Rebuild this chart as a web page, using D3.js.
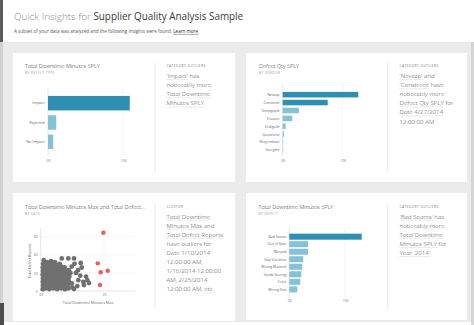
<!DOCTYPE html>
<html><head><meta charset="utf-8">
<script src="https://cdn.jsdelivr.net/npm/d3@7"></script>
<style>
body{margin:0;background:#fff}
svg{display:block}
text{font-family:"Open Sans","Noto Sans",sans-serif}
</style>
</head><body>
<svg id="c" width="474" height="325"></svg>
<script>
// ---- data ----
const defectTypes = ["Impact", "Rejected", "No Impact"];
const defectTypeMinutes = [10900, 1100, 700];
const defectTypeOutliers = ["Impact"];

const vendors = ["Nevzap", "Constreet", "Tempguple", "Trusson", "Ecdigulle", "Quotelane", "Rozycinbase", "San-glee"];
const vendorQty = [12600, 7500, 2700, 1600, 500, 200, 60, 40];
const vendorOutliers = ["Nevzap", "Constreet"];

const defects = ["Bad Seams", "Out of Spec", "Warped", "Gap Variation", "Wrong Material", "Inside Scoring", "Color", "Wrong Size"];
const defectMinutes = [13000, 3350, 3350, 2500, 2330, 2150, 1970, 1440];
const defectOutliers = ["Bad Seams"];

// [Total Downtime Minutes Max, Total Defect Reports] per date
const datePoints = [
  [65,2],[72,6],[68,10],[75,14],[62,18],[70,22],[66,26],[74,30],
  [150,3],[140,7],[160,11],[145,15],[155,19],[148,23],[158,27],[142,31],
  [270,2],[280,6],[265,10],[275,14],[285,18],[268,22],[278,26],[272,30],
  [400,3],[390,7],[410,11],[395,15],[405,19],[398,23],[388,27],[408,31],
  [520,2],[530,6],[515,10],[525,14],[510,18],[528,22],[518,26],[522,29],
  [650,3],[640,7],[660,11],[645,15],[655,19],[648,23],[658,27],
  [770,2],[780,6],[765,10],[775,14],[785,18],[768,22],[760,26],
  [880,3],[870,7],[890,11],[875,15],[860,19],[885,23],
  [88,4],[92,8],[85,12],[95,16],[90,20],[86,24],[93,28],
  [212,4],[205,8],[215,12],[208,16],[210,20],[204,24],[214,28],
  [335,4],[340,8],[330,12],[338,16],[332,20],[342,24],[336,28],
  [458,4],[462,8],[455,12],[465,16],[452,20],[460,24],[456,28],
  [585,4],[590,8],[580,12],[588,16],[583,20],[592,24],
  [708,4],[712,8],[705,12],[715,16],[702,20],[710,24],
  [825,5],[830,9],[820,13],[828,17],[818,21],
  [95,34],[330,33],[200,32],[450,32],[600,30],
  [664,36],[872,36],[1052,36],[980,27],[1264,31],[1296,26],[1115,20],
  [1431,16],[1472,12],[1346,10],[1188,12],[1157,5.5],[1368,6.6],[904,16],
  [768,10],[980,8.5],[1052,2.2],[1526,8.8],[1179,23],[1068,30],[1000,4],
  [940,20],[1250,17]
];
const dateOutliers = [[1978,64.4],[1801,30.6],[1896,20.7],[2117,22.4],[1874,6.6]];

const barTicks = [0, 10000];
const scatterXTicks = [0, 2000];
const scatterYTicks = [0, 20, 40, 60];

// ---- page ----
const svg = d3.select("#c");
const kFmt = d => (d / 1000) + "K";
const DARK = "#2e8fb2", LIGHT = "#85c2d6";

svg.append("rect").attr("width", 474).attr("height", 325).attr("fill", "#fff");
svg.append("rect").attr("x", 0).attr("y", 42).attr("width", 474).attr("height", 280).attr("fill", "#ebebeb");
svg.append("rect").attr("x", 0).attr("y", 0).attr("width", 3).attr("height", 42).attr("fill", "#5c5c5c");
svg.append("rect").attr("x", 0).attr("y", 42).attr("width", 3).attr("height", 261).attr("fill", "#d2d2d2");
svg.append("rect").attr("x", 0).attr("y", 303).attr("width", 4).attr("height", 22).attr("fill", "#4e4e4e");
svg.append("rect").attr("x", 471).attr("y", 42).attr("width", 3).attr("height", 283).attr("fill", "#d6d6d6");

const head = svg.append("text").attr("x", 14).attr("y", 19.5).attr("font-size", 9.9);
head.append("tspan").attr("fill", "#8c8c8c").attr("font-weight", 300).text("Quick Insights for ");
head.append("tspan").attr("fill", "#3a3a3a").text("Supplier Quality Analysis Sample");

const sub = svg.append("text").attr("x", 14).attr("y", 33).attr("font-size", 4.6).attr("fill", "#555");
sub.append("tspan").text("A subset of your data was analyzed and the following insights were found.  ");
const learn = sub.append("tspan").attr("fill", "#222").text("Learn more");
{
  const b = learn.node().getBBox();
  svg.append("line").attr("x1", b.x).attr("x2", b.x + b.width).attr("y1", 34.4).attr("y2", 34.4)
    .attr("stroke", "#333").attr("stroke-width", 0.4);
}

// ---- helpers ----
function card(x, y, w, h, divX, divTop, divBottom) {
  svg.append("rect").attr("x", x).attr("y", y).attr("width", w).attr("height", h).attr("fill", "#fff");
  svg.append("line").attr("x1", divX).attr("x2", divX).attr("y1", divTop).attr("y2", divBottom)
    .attr("stroke", "#e4e4e4").attr("stroke-width", 0.8);
}

function heading(x, y, title, subtitle) {
  svg.append("text").attr("x", x).attr("y", y).attr("font-size", 5.6).attr("font-weight", 300)
    .attr("fill", "#2a2a2a").text(title);
  svg.append("text").attr("x", x).attr("y", y + 6).attr("font-size", 3.1).attr("letter-spacing", 0.45)
    .attr("fill", "#9a9a9a").text(subtitle);
}

function insight(x, y, kind, lines) {
  svg.append("text").attr("x", x).attr("y", y).attr("font-size", 3.2).attr("letter-spacing", 0.45)
    .attr("fill", "#777").text(kind);
  lines.forEach((parts, i) => {
    const t = svg.append("text").attr("x", x).attr("y", y + 11 + i * 9.1).attr("font-size", 6.2)
      .attr("font-weight", 300).attr("fill", "#4a4a4a");
    parts.forEach(([s, u]) => {
      const sp = t.append("tspan").text(s);
      if (u) {
        const b = sp.node().getBBox();
        svg.append("line").attr("x1", b.x).attr("x2", b.x + b.width)
          .attr("y1", y + 12.6 + i * 9.1).attr("y2", y + 12.6 + i * 9.1)
          .attr("stroke", "#b8b8b8").attr("stroke-width", 0.5).attr("stroke-dasharray", "0.8 0.5");
      }
    });
  });
}

function barChart(o) {
  const x = d3.scaleLinear().domain([0, 10000]).range([o.x0, o.x10k]);
  const y = d3.scaleBand().domain(o.cats).range([o.bandTop, o.bandBottom])
    .paddingInner(o.pi).paddingOuter(o.po);
  const g = svg.append("g");
  g.append("line").attr("x1", x(10000)).attr("x2", x(10000)).attr("y1", o.axisTop).attr("y2", o.axisBottom)
    .attr("stroke", "#eeeeee").attr("stroke-width", 0.6);
  g.append("line").attr("x1", x(0)).attr("x2", x(0)).attr("y1", o.axisTop).attr("y2", o.axisBottom)
    .attr("stroke", "#d4d4d4").attr("stroke-width", 0.6);
  g.selectAll("rect.bar").data(o.cats).join("rect").attr("class", "bar")
    .attr("x", x(0)).attr("y", d => y(d))
    .attr("width", (d, i) => Math.max(0.4, x(o.vals[i]) - x(0)))
    .attr("height", y.bandwidth())
    .attr("fill", d => o.hi.includes(d) ? DARK : LIGHT);
  g.selectAll("text.cat").data(o.cats).join("text").attr("class", "cat")
    .attr("x", o.labelX).attr("y", d => y(d) + y.bandwidth() / 2 + 1.3)
    .attr("text-anchor", "end").attr("font-size", o.labelSize).attr("fill", "#666").text(d => d);
  const ax = g.append("g").attr("transform", `translate(0,${o.tickY})`)
    .call(d3.axisBottom(x).tickValues(barTicks).tickFormat(kFmt).tickSize(0).tickPadding(0));
  ax.select(".domain").remove();
  ax.selectAll("text").attr("font-size", 3.4).attr("fill", "#777").attr("font-family", "Open Sans");
}

// ---- card 1: downtime by defect type ----
card(13, 53, 222, 129, 155, 63, 173);
heading(25, 68, "Total Downtime Minutes SPLY", "BY DEFECT TYPE");
barChart({cats: defectTypes, vals: defectTypeMinutes, hi: defectTypeOutliers,
  x0: 48, x10k: 123, bandTop: 93.5, bandBottom: 151.5, pi: 0.25, po: 0.125,
  axisTop: 88, axisBottom: 156, tickY: 159.5, labelX: 44.5, labelSize: 3.8});
insight(166.5, 67, "CATEGORY OUTLIERS", [
  [["'Impact'", true], [" has"]],
  [["noticeably more"]],
  [["Total Downtime", true]],
  [["Minutes SPLY", true]]
]);

// ---- card 2: defect qty by vendor ----
card(246, 53, 221, 129, 387.7, 63, 173);
heading(259, 68, "Defect Qty SPLY", "BY VENDOR");
barChart({cats: vendors, vals: vendorQty, hi: vendorOutliers,
  x0: 282.7, x10k: 342.7, bandTop: 90.7, bandBottom: 154, pi: 0.3, po: 0.15,
  axisTop: 83, axisBottom: 156.5, tickY: 160, labelX: 279.5, labelSize: 3.5});
insight(399.5, 67, "CATEGORY OUTLIERS", [
  [["'Nevzap'", true], [" and"]],
  [["'Constreet'", true], [" have"]],
  [["noticeably more"]],
  [["Defect Qty SPLY", true], [" for"]],
  [["Date 4/27/2014", true]],
  [["12:00:00 AM"]]
]);

// ---- card 3: scatter by date ----
card(13, 193, 222, 128, 155, 203, 308);
heading(25, 208.5, "Total Downtime Minutes Max and Total Defect...", "BY DATE");
{
  const x = d3.scaleLinear().domain([0, 3000]).range([40.7, 135.7]);
  const y = d3.scaleLinear().domain([0, 70]).range([291, 227.7]);
  const g = svg.append("g");
  g.selectAll("line.gy").data(scatterYTicks.slice(1)).join("line").attr("class", "gy")
    .attr("x1", x(0)).attr("x2", x(3000)).attr("y1", d => y(d)).attr("y2", d => y(d))
    .attr("stroke", "#eeeeee").attr("stroke-width", 0.5);
  g.append("line").attr("x1", x(2000)).attr("x2", x(2000)).attr("y1", y(70)).attr("y2", y(0))
    .attr("stroke", "#eeeeee").attr("stroke-width", 0.5);
  g.append("line").attr("x1", x(0)).attr("x2", x(0)).attr("y1", y(70)).attr("y2", y(0))
    .attr("stroke", "#d4d4d4").attr("stroke-width", 0.6);
  g.append("line").attr("x1", x(0)).attr("x2", x(3000)).attr("y1", y(0)).attr("y2", y(0))
    .attr("stroke", "#d4d4d4").attr("stroke-width", 0.6);
  g.selectAll("circle.p").data(datePoints).join("circle").attr("class", "p")
    .attr("cx", d => x(d[0])).attr("cy", d => y(d[1])).attr("r", 2.4).attr("fill", "#707070");
  g.selectAll("circle.o").data(dateOutliers).join("circle").attr("class", "o")
    .attr("cx", d => x(d[0])).attr("cy", d => y(d[1])).attr("r", 2.2).attr("fill", "#ee5b5c");
  const ax = g.append("g").attr("transform", `translate(0,${y(0) + 1.5})`)
    .call(d3.axisBottom(x).tickValues(scatterXTicks).tickFormat(kFmt).tickSize(0).tickPadding(1.5));
  ax.select(".domain").remove();
  ax.selectAll("text").attr("font-size", 3.4).attr("fill", "#777").attr("font-family", "Open Sans");
  const ay = g.append("g").attr("transform", `translate(${x(0) - 3},0)`)
    .call(d3.axisLeft(y).tickValues(scatterYTicks).tickSize(0).tickPadding(0));
  ay.select(".domain").remove();
  ay.selectAll("text").attr("font-size", 3.4).attr("fill", "#777").attr("font-family", "Open Sans");
  g.append("text").attr("transform", "translate(30.5,261) rotate(-90)").attr("text-anchor", "middle")
    .attr("font-size", 3.7).attr("fill", "#666").text("Total Defect Reports");
  g.append("text").attr("x", 88).attr("y", 303.5).attr("text-anchor", "middle")
    .attr("font-size", 3.7).attr("fill", "#666").text("Total Downtime Minutes Max");
}
insight(166.5, 207.5, "CLUSTER", [
  [["Total Downtime", true]],
  [["Minutes Max", true], [" and"]],
  [["Total Defect Reports", true]],
  [["have outliers for"]],
  [["Date 1/10/2014"]],
  [["12:00:00 AM,"]],
  [["1/16/2014 12:00:00"]],
  [["AM, 2/25/2014"]],
  [["12:00:00 AM, "], ["etc.", true]]
]);

// ---- card 4: downtime by defect ----
card(246, 193, 221, 127, 387.7, 203, 310);
heading(258.5, 208.5, "Total Downtime Minutes SPLY", "BY DEFECT");
barChart({cats: defects, vals: defectMinutes, hi: defectOutliers,
  x0: 289.3, x10k: 345, bandTop: 232.9, bandBottom: 293.1, pi: 0.2, po: 0.1,
  axisTop: 226.5, axisBottom: 297.5, tickY: 300, labelX: 286.5, labelSize: 3.5});
insight(399.5, 207.5, "CATEGORY OUTLIERS", [
  [["'Bad Seams'", true], [" has"]],
  [["noticeably more"]],
  [["Total Downtime", true]],
  [["Minutes SPLY", true], [" for"]],
  [["Year '2014'", true], ["."]]
]);
</script>
</body></html>
